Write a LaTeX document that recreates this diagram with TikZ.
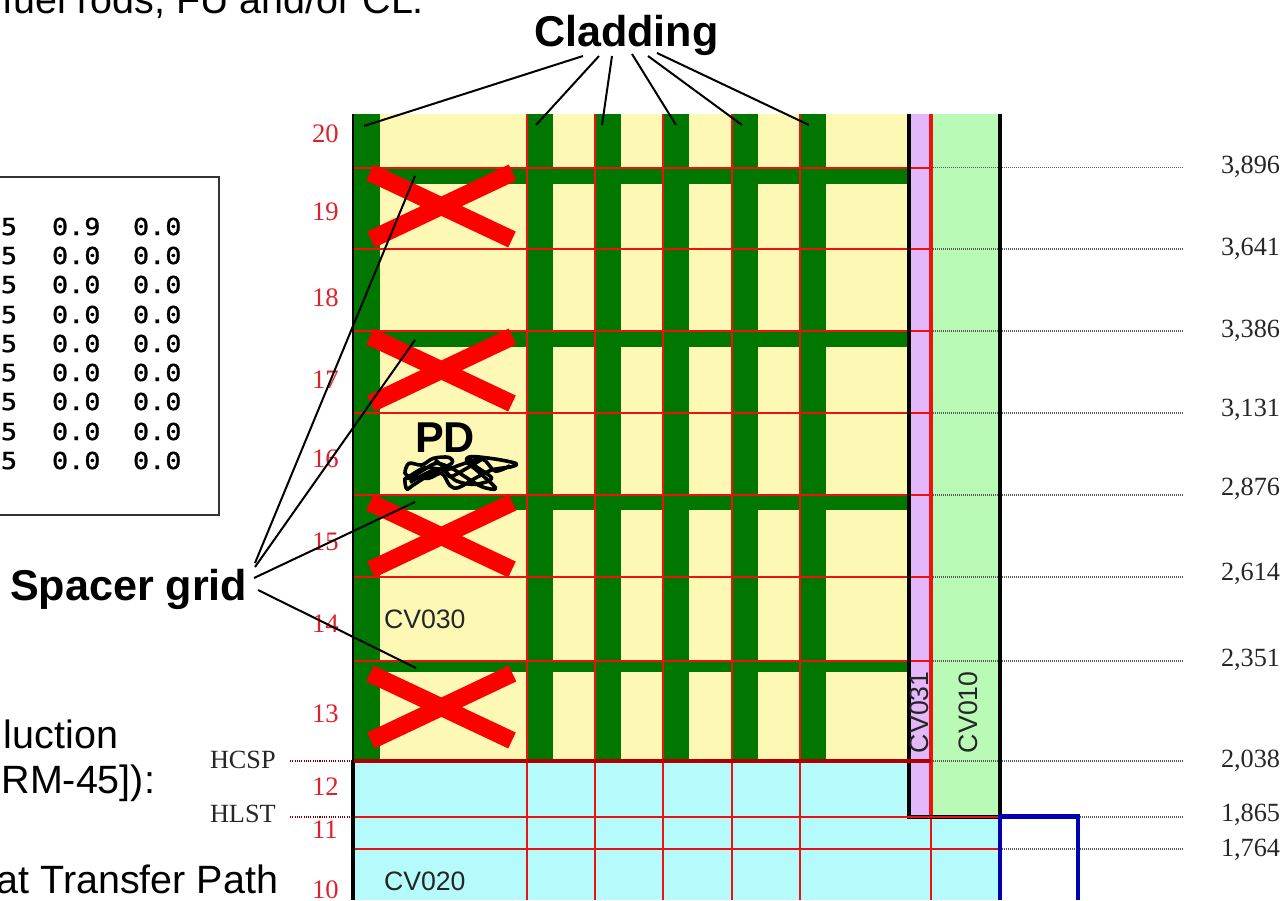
\documentclass[tikz,border=0pt]{standalone}
\usepackage{fontspec}
\newfontfamily\arialF{Liberation Sans}
\newfontfamily\serifF{Liberation Serif}
\newfontfamily\monoF[FakeStretch=1.15,FakeBold=1.2]{DejaVu Sans Mono}
\definecolor{fuelY}{HTML}{FDF9B4}
\definecolor{coolC}{HTML}{B6FBFB}
\definecolor{purp}{HTML}{E2B8FB}
\definecolor{lgreen}{HTML}{B9FBB6}
\definecolor{cladG}{HTML}{007700}
\definecolor{gridR}{HTML}{EE1111}
\definecolor{numR}{HTML}{E0202A}
\definecolor{bluew}{HTML}{0000B0}
\tikzset{
  every node/.style={inner sep=0pt,outer sep=0pt},
  big/.style={font=\arialF\fontsize{29.6}{30}\selectfont,anchor=base east,text=black},
  bold/.style={font=\arialF\bfseries\fontsize{32.35}{33}\selectfont,anchor=base west,text=black},
  cv/.style={font=\arialF\fontsize{20}{20}\selectfont,anchor=base west,text=black!85},
  val/.style={font=\serifF\fontsize{19.7}{20}\selectfont,anchor=base west,text=black!85},
  num/.style={font=\serifF\fontsize{20}{20}\selectfont,anchor=base west,text=numR},
  tab/.style={font=\monoF\fontsize{17.5}{18}\selectfont,anchor=base west,text=black},
  gline/.style={draw=gridR,line width=1.5pt},
  gthin/.style={draw=gridR,line width=1.3pt},
  dot/.style={draw=black!65,line width=0.9pt,dash pattern=on 1pt off 0.5pt},
  dotr/.style={draw=red!50!black,line width=0.8pt,dash pattern=on 0.8pt off 0.9pt},
  callout/.style={draw=black,line width=1.5pt},
  xmark/.style={draw=red,line width=13.2pt},
  scrib/.style={draw=black,line width=2.7pt,line join=round},
}
\begin{document}
\begin{tikzpicture}[x=0.75pt,y=-0.75pt]
\useasboundingbox (0,0) rectangle (1285,900);
\clip (0,0) rectangle (1285,900);
% fills
\fill[fuelY] (354,114) rectangle (907,761);
\fill[coolC] (354,761) rectangle (1000,900);
\fill[purp] (909,114) rectangle (931,817);
\fill[lgreen] (931,114) rectangle (1000,817);
% cladding
\foreach \x in {354,527,595,663,732,800}
  \fill[cladG] (\x,114) rectangle ++(25.5,647);
\foreach \y/\h in {168/16,331/16,495/15,661/11}
  \fill[cladG] (354,\y) rectangle (908,\y+\h);
% horizontal cell lines
\foreach \y in {167.5,249,331,413,495,577,661}
  \draw[gline] (354,\y) -- (931,\y);
\draw[gthin] (354,817) -- (1000,817);
\draw[gthin] (354,849) -- (1000,849);
% vertical cell lines
\foreach \x in {527,595,663,732,800}{
  \draw[gthin] (\x,114) -- (\x,761);
  \draw[gthin] (\x,761) -- (\x,900);
}
\draw[gthin] (931,817) -- (931,900);
\draw[draw=gridR,line width=2.4pt] (931,114) -- (931,817);
% dotted level lines
\foreach \y in {167.5,249,331,413,495,577,661,761}{
  \draw[dot] (933,\y) -- (998,\y);
  \draw[dot] (1002,\y) -- (1184,\y);
}
\draw[dot] (1080,817) -- (1184,817);
\draw[dot] (1002,849) -- (1184,849);
\draw[dotr] (290,761) -- (352,761);
\draw[dotr] (290,817) -- (352,817);
% walls
\draw[black,line width=2pt] (353,114) -- (353,761);
\draw[black,line width=3.2pt] (353,761) -- (353,900);
\draw[black,line width=3.2pt] (909,114) -- (909,817);
\draw[black,line width=3.2pt] (1000,114) -- (1000,817);
\draw[black,line width=3pt] (907,817) -- (1000,817);
\draw[gridR,line width=1.2pt] (907,817) -- (1000,817);
\draw[draw=red!70!black,line width=2.6pt] (354,761) -- (931,761);
\draw[bluew,line width=3.2pt] (1000,900) -- (1000,816.5) -- (1078,816.5) -- (1078,900);
% crosses
\foreach \c in {206,370,536,707}{
  \draw[xmark] (370,\c-33.5) -- (512,\c+33.5);
  \draw[xmark] (512.5,\c-33.5) -- (371,\c+33.5);
}
% scribble
\begin{scope}[shift={(395,445)},x=0.25pt,y=-0.25pt]
\draw[scrib] plot[smooth cycle,tension=0.55] coordinates {
 (30,100) (35,132) (55,120) (110,85) (170,55) (160,37) (115,40) (80,60) (42,55) (30,85)
 (50,95) (100,100) (140,85) (165,122) (190,128) (240,100) (290,75) (350,65) (362,55) (300,42) (228,35)
 (215,50) (250,80) (302,130) (260,125) (210,95) (170,70) (125,55) (85,75) (45,100)};
\draw[scrib] plot[smooth,tension=0.55] coordinates {
 (35,100) (90,68) (150,75) (200,58) (262,42) (300,78) (345,62)};
\draw[scrib] plot[smooth,tension=0.55] coordinates {
 (45,112) (130,72) (185,108) (240,118) (290,100) (240,62) (225,38)};
\draw[scrib] plot[smooth,tension=0.55] coordinates {
 (120,45) (150,70) (165,95) (215,70) (262,42)};
\end{scope}
% texts
\node[big] (t1) at (424,13) {fuel rods, FU and/or CL.};
\node[big] (t2) at (118,748) {luction};
\node[big] (t3) at (155,793) {RM-45]):};
\node[big] (t4) at (278,893) {at Transfer Path};
\node[bold] (clad) at (534,46) {Cladding};
\node[bold] (spacer) at (10,600) {Spacer grid};
\node[bold] (pd) at (415,452) {PD};
\node[cv] (cv030) at (384,628) {CV030};
\node[cv] (cv020) at (384,890) {CV020};
\node[cv,rotate=90] (cv031) at (928,753) {CV031};
\node[cv,rotate=90] (cv010) at (977,753) {CV010};
% level numbers
\node[num] (n20) at (312,142) {20};
\node[num] (n19) at (312,220) {19};
\node[num] (n18) at (312,306) {18};
\node[num] (n17) at (312,388) {17};
\node[num] (n16) at (312,467) {16};
\node[num] (n15) at (312,550) {15};
\node[num] (n14) at (312,632) {14};
\node[num] (n13) at (312,722) {13};
\node[num] (n12) at (312,795) {12};
\node[num] (n11) at (312,838) {11};
\node[num] (n10) at (312,898) {10};
\node[val] (hcsp) at (210,768) {HCSP};
\node[val] (hlst) at (210,822) {HLST};
% level values
\node[val] (v1) at (1221,173) {3,896};
\node[val] (v2) at (1221,255) {3,641};
\node[val] (v3) at (1221,337) {3,386};
\node[val] (v4) at (1221,416) {3,131};
\node[val] (v5) at (1221,495) {2,876};
\node[val] (v6) at (1221,580) {2,614};
\node[val] (v7) at (1221,666) {2,351};
\node[val] (v8) at (1221,767) {2,038};
\node[val] (v9) at (1221,821) {1,865};
\node[val] (v10) at (1221,856) {1,764};
% table box
\draw[black!80,line width=1.1pt] (-5,177) -- (219,177) -- (219,515) -- (-5,515);
\foreach \y/\m/\i in {235/0.9/a,264/0.0/b,293/0.0/c,323/0.0/d,352/0.0/e,381/0.0/f,410/0.0/g,440/0.0/h,469/0.0/i}{
  \node[tab] (ca\i) at (1,\y) {5};
  \node[tab] (cb\i) at (52,\y) {\m};
  \node[tab] (cc\i) at (133,\y) {0.0};
}
% callouts
\coordinate (a1) at (583,56); \coordinate (b1) at (364,126);
\coordinate (a2) at (599,56); \coordinate (b2) at (536,125);
\coordinate (a3) at (612,56); \coordinate (b3) at (602,125);
\coordinate (a4) at (632,54); \coordinate (b4) at (676,125);
\coordinate (a5) at (648,56); \coordinate (b5) at (742,125);
\coordinate (a6) at (657,53); \coordinate (b6) at (809,125);
\foreach \i in {1,...,6} \draw[callout] (a\i) -- (b\i);
\coordinate (s1) at (255,563); \coordinate (e1) at (415,176);
\coordinate (s2) at (255,567); \coordinate (e2) at (415,340);
\coordinate (s3) at (254,578); \coordinate (e3) at (415,502);
\coordinate (s4) at (258,590); \coordinate (e4) at (416,668);
\foreach \i in {1,...,4} \draw[callout] (s\i) -- (e\i);
\end{tikzpicture}
\end{document}
